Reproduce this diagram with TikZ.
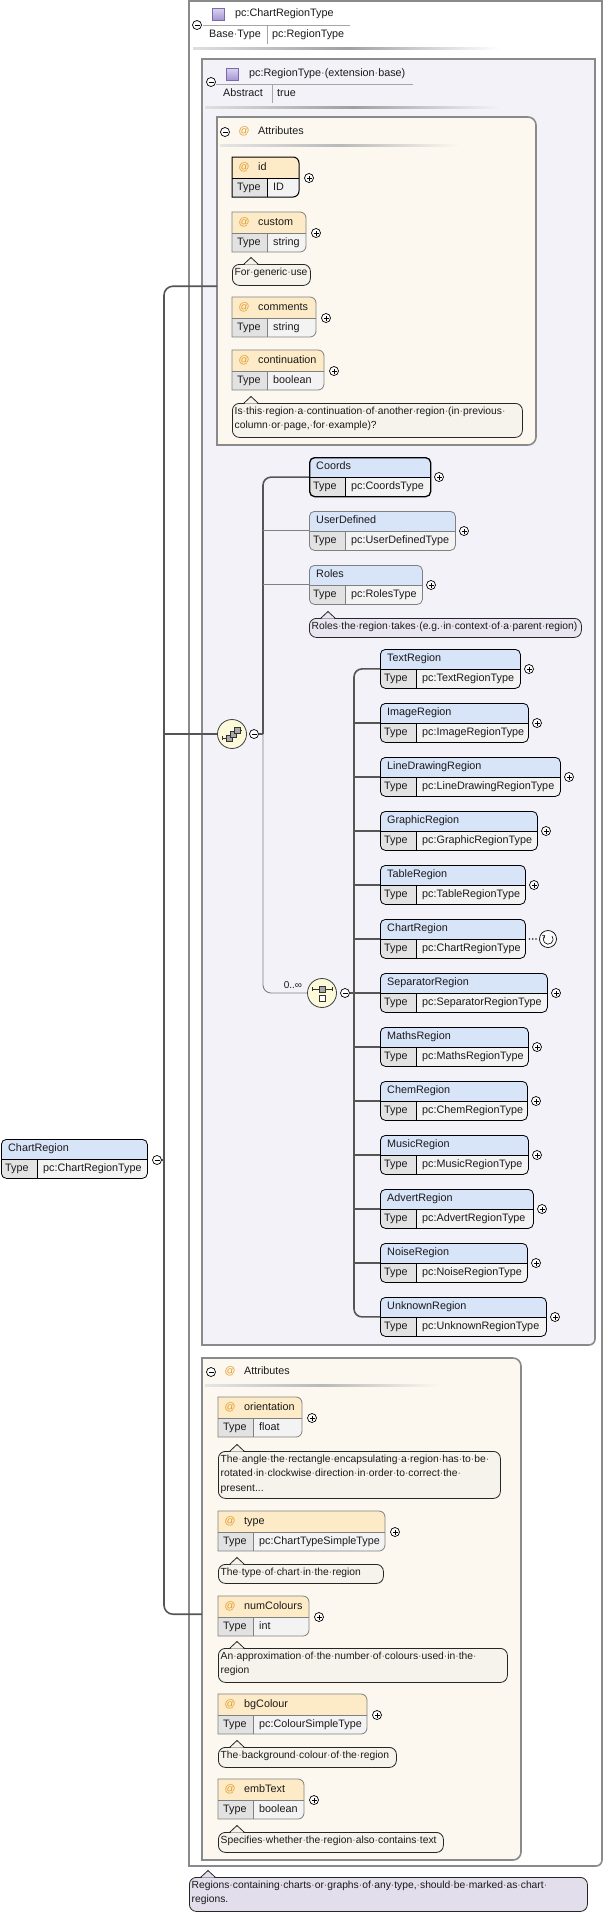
\documentclass[tikz,border=0pt]{standalone}
\usepackage{fontspec}
\setmainfont{Liberation Sans}
\usepackage{newunicodechar}
\definecolor{txt}{HTML}{1A1A1A}
\definecolor{wsdot}{HTML}{8C4A4A}
\definecolor{framegray}{HTML}{8A8A8A}
\definecolor{innerfill}{HTML}{F3F2F9}
\definecolor{attfill}{HTML}{FDF8EF}
\definecolor{elhead}{HTML}{D8E4F8}
\definecolor{atthead}{HTML}{FDEBC8}
\definecolor{typekey}{HTML}{E2E2E2}
\definecolor{typeval}{HTML}{F3F3F3}
\definecolor{optgray}{HTML}{808080}
\definecolor{conngray}{HTML}{555555}
\definecolor{atcol}{HTML}{E49A2A}
\definecolor{docfill}{HTML}{F6F3EC}
\definecolor{docfill2}{HTML}{E9E5F1}
\definecolor{docfill3}{HTML}{E2DEEC}
\definecolor{iconyellow}{HTML}{FCFAD8}
\definecolor{icongray}{HTML}{A8A8A8}
\definecolor{icontop}{HTML}{DCD4F0}
\definecolor{iconbot}{HTML}{A696D2}
\definecolor{iconborder}{HTML}{7A6AB0}
\newunicodechar{·}{\textcolor{wsdot}{\char"00B7}}

\tikzset{
  lbl/.style={inner sep=0, font=\fontsize{10.8}{13}\selectfont, text=txt, text height=7.8, text depth=2.2},
  doctxt/.style={inner sep=0, font=\fontsize{10.3}{14.5}\selectfont, align=left, text=txt},
  elreq/.style={draw=black, line width=0.8},
  elstrong/.style={draw=black, line width=1.3},
  elopt/.style={draw=optgray, line width=0.8},
  attreq/.style={draw=black, line width=1.0},
  attopt/.style={draw=optgray, line width=0.8},
  frame/.style={draw=framegray, line width=1.6},
  sepline/.style={draw=gray!70, line width=0.6},
  conn/.style={draw=conngray, line width=1.6},
  thinconn/.style={draw=optgray, line width=0.9},
  iconline/.style={draw=black!80, line width=0.6},
  btnminus/.style={circle, draw=black, fill=white, line width=0.7, minimum size=9, inner sep=0,
    path picture={\draw[line width=0.7] ([xshift=2pt]path picture bounding box.west) -- ([xshift=-2pt]path picture bounding box.east);}},
  btnplus/.style={circle, draw=black, fill=white, line width=0.7, minimum size=9, inner sep=0,
    path picture={\draw[line width=0.7] ([xshift=2pt]path picture bounding box.west) -- ([xshift=-2pt]path picture bounding box.east)
      ([yshift=2pt]path picture bounding box.south) -- ([yshift=-2pt]path picture bounding box.north);}},
  typeicon/.style={draw=iconborder, top color=icontop, bottom color=iconbot, minimum size=12, inner sep=0},
  modelicon/.style={circle, draw=black!75, fill=iconyellow, line width=0.8, minimum size=29, inner sep=0},
  reccirc/.style={circle, draw=black, fill=white, line width=0.7, minimum size=17, inner sep=0}
}

% box with rounded right corners: x, y, w, h, r
\newcommand\rrect[5]{(#1,#2) -- ++(#3-#5,0) arc[start angle=-90,end angle=0,radius=#5] -- ++(0,#4-2*#5) arc[start angle=0,end angle=90,radius=#5] -- (#1,#2+#4) -- cycle}

% element box: [border] name, x, y, width, title, type
\newcommand\elboxbare[7][elreq]{%
  \begin{scope}
    \clip[rounded corners=5] (#3,#4) rectangle ++(#5,39);
    \fill[elhead] (#3,#4) rectangle ++(#5,20);
    \fill[typekey] (#3,#4+20) rectangle ++(36,19);
    \fill[typeval] (#3+36,#4+20) rectangle (#3+#5,#4+39);
  \end{scope}
  \draw[#1, line width=0.6] (#3,#4+20) -- ++(#5,0) (#3+36,#4+20) -- ++(0,19);
  \node[#1, rounded corners=5, minimum width=#5, minimum height=39, anchor=north west, inner sep=0] (#2) at (#3,#4) {};
  \node[lbl, anchor=west] (#2-t) at (#3+7,#4+10) {#6};
  \node[lbl, anchor=west] (#2-k) at (#3+4,#4+29.5) {Type};
  \node[lbl, anchor=west] (#2-v) at (#3+42,#4+29.5) {#7};
}
\newcommand\elbox[7][elreq]{%
  \elboxbare[#1]{#2}{#3}{#4}{#5}{#6}{#7}
  \node[btnplus] (#2-b) at (#3+#5+9,#4+20) {};
}

% attribute box: [border] name, x, y, width, title, type
\newcommand\attbox[7][attopt]{%
  \begin{scope}
    \clip \rrect{#3}{#4}{#5}{40}{6};
    \fill[atthead] (#3,#4) rectangle ++(#5,21);
    \fill[typekey] (#3,#4+21) rectangle ++(35,19);
    \fill[typeval] (#3+35,#4+21) rectangle (#3+#5,#4+40);
  \end{scope}
  \draw[#1] \rrect{#3}{#4}{#5}{40}{6};
  \draw[#1, line width=0.6] (#3,#4+21) -- ++(#5,0) (#3+35,#4+21) -- ++(0,19);
  \node[inner sep=0, minimum width=#5, minimum height=40, anchor=north west] (#2) at (#3,#4) {};
  \node[lbl, text=atcol] (#2-at) at (#3+12,#4+10.5) {@};
  \node[lbl, anchor=west] (#2-t) at (#3+26,#4+10.5) {#6};
  \node[lbl, anchor=west] (#2-k) at (#3+5,#4+30.5) {Type};
  \node[lbl, anchor=west] (#2-v) at (#3+41,#4+30.5) {#7};
  \node[btnplus] (#2-b) at (#3+#5+10,#4+21) {};
}

% documentation callout: [fill] name, x, y, width, height, text
\newcommand\docbox[7][docfill]{%
  \node[draw=black!85, line width=0.8, fill=#1, rounded corners=7, minimum width=#5, minimum height=#6, anchor=north west, inner sep=0] (#2) at (#3,#4) {};
  \fill[#1] (#3+12.5,#4+0.7) -- (#3+19,#4-6.5) -- (#3+25.5,#4+0.7) -- cycle;
  \draw[draw=black!85, line width=0.8] (#3+12,#4) -- (#3+19,#4-6.5) -- (#3+26,#4);
  \node[doctxt, anchor=north west] (#2-t) at (#3+2.5,#4+3.5) {#7};
}

\begin{document}
\begin{tikzpicture}[x=1pt, y=-1pt]
  \useasboundingbox (0,0) rectangle (605,1915);

  % pc:ChartRegionType
  \draw[frame, fill=white] (189,1) -- (602,1) -- (602,1860) arc[start angle=0,end angle=90,radius=6] -- (189,1866) -- cycle;
  \node[btnminus] (ctype-b) at (197,25) {};
  \node[typeicon] (ctype-i) at (218,14) {};
  \node[lbl, anchor=west] (ctype) at (235,14) {pc:ChartRegionType};
  \draw[sepline] (203,25) -- (350,25) (267,25) -- (267,44);
  \node[lbl, anchor=west] (ctype-k) at (209,35) {Base·Type};
  \node[lbl, anchor=west] (ctype-v) at (272,35) {pc:RegionType};
  \shade[left color=gray!25, right color=white, middle color=gray!75] (193,47) rectangle (500,49.5);

  % pc:RegionType (extension base)
  \draw[frame, fill=innerfill] (202,59) -- (595,59) -- (595,1339) arc[start angle=0,end angle=90,radius=6] -- (202,1345) -- cycle;
  \node[btnminus] (rtype-b) at (211,82) {};
  \node[typeicon] (rtype-i) at (232,74) {};
  \node[lbl, anchor=west] (rtype) at (249,74) {pc:RegionType·(extension·base)};
  \draw[sepline] (216,84) -- (413,84) (272,84) -- (272,103);
  \node[lbl, anchor=west] (rtype-k) at (223,94) {Abstract};
  \node[lbl, anchor=west] (rtype-v) at (277,94) {true};
  \shade[left color=gray!25, right color=innerfill, middle color=gray!75] (205,106) rectangle (500,108.5);

  % Attributes (base)
  \draw[frame, fill=attfill] \rrect{217}{117}{319}{328}{8};
  \node[inner sep=0, minimum width=319, minimum height=328, anchor=north west] (attA) at (217,117) {};
  \node[btnminus] (attA-b) at (225,132) {};
  \node[lbl, text=atcol] (attA-at) at (244,132) {@};
  \node[lbl, anchor=west] (attA-t) at (258,132) {Attributes};
  \shade[left color=gray!20, right color=attfill, middle color=gray!55] (220,144) rectangle (460,146.5);

  \attbox[attreq]{id}{232}{157}{67}{id}{ID}
  \attbox{custom}{232}{212}{74}{custom}{string}
  \docbox{custom-d}{232}{264}{78}{21}{For·generic·use}
  \attbox{comments}{232}{297}{84}{comments}{string}
  \attbox{continuation}{232}{350}{92}{continuation}{boolean}
  \docbox{continuation-d}{232}{403}{290}{34}{Is·this·region·a·continuation·of·another·region·(in·previous·\\column·or·page,·for·example)?}

  % sequence
  \node[modelicon] (seq) at (232,734) {};
  \draw[iconline] ([shift={(-10,2)}]seq.center) -- ++(0,4) ([shift={(-10,4)}]seq.center) -- ++(4,0)
    ([shift={(7,-6)}]seq.center) -- ++(0,4) ([shift={(7,-4)}]seq.center) -- ++(3,0);
  \draw[iconline, fill=icongray] ([shift={(-6,1)}]seq.center) rectangle ++(6,6);
  \draw[iconline, fill=icongray] ([shift={(-2,-3)}]seq.center) rectangle ++(6,6);
  \draw[iconline, fill=icongray] ([shift={(2,-7)}]seq.center) rectangle ++(6,6);
  \node[btnminus] (seq-b) at (254,734) {};
  \coordinate (seqbar) at (263,734);

  \elbox[elstrong]{Coords}{309}{457}{121}{Coords}{pc:CoordsType}
  \elbox[elopt]{UserDefined}{309}{511}{146}{UserDefined}{pc:UserDefinedType}
  \elbox[elopt]{Roles}{309}{565}{113}{Roles}{pc:RolesType}
  \docbox[docfill2]{Roles-d}{309}{618}{272}{19}{Roles·the·region·takes·(e.g.·in·context·of·a·parent·region)}

  % choice
  \node[modelicon] (choice) at (322,993) {};
  \draw[iconline] ([shift={(-10,-4)}]choice.center) -- ++(20,0)
    ([shift={(-10,-6)}]choice.center) -- ++(0,4) ([shift={(10,-6)}]choice.center) -- ++(0,4);
  \draw[iconline, fill=icongray] ([shift={(-3,-7)}]choice.center) rectangle ++(6,6);
  \draw[iconline, fill=white] ([shift={(-3,2)}]choice.center) rectangle ++(6,6);
  \node[lbl, font=\fontsize{10}{12}\selectfont] (choice-l) at (293,986) {0..∞};
  \node[btnminus] (choice-b) at (345,993) {};
  \coordinate (chbar) at (354,993);

  \elbox{TextRegion}{380}{649}{140}{TextRegion}{pc:TextRegionType}
  \elbox{ImageRegion}{380}{703}{148}{ImageRegion}{pc:ImageRegionType}
  \elbox{LineDrawingRegion}{380}{757}{180}{LineDrawingRegion}{pc:LineDrawingRegionType}
  \elbox{GraphicRegion}{380}{811}{157}{GraphicRegion}{pc:GraphicRegionType}
  \elbox{TableRegion}{380}{865}{145}{TableRegion}{pc:TableRegionType}
  \elboxbare{ChartRegion}{380}{919}{145}{ChartRegion}{pc:ChartRegionType}
  \elbox{SeparatorRegion}{380}{973}{167}{SeparatorRegion}{pc:SeparatorRegionType}
  \elbox{MathsRegion}{380}{1027}{148}{MathsRegion}{pc:MathsRegionType}
  \elbox{ChemRegion}{380}{1081}{147}{ChemRegion}{pc:ChemRegionType}
  \elbox{MusicRegion}{380}{1135}{148}{MusicRegion}{pc:MusicRegionType}
  \elbox{AdvertRegion}{380}{1189}{153}{AdvertRegion}{pc:AdvertRegionType}
  \elbox{NoiseRegion}{380}{1243}{147}{NoiseRegion}{pc:NoiseRegionType}
  \elbox{UnknownRegion}{380}{1297}{166}{UnknownRegion}{pc:UnknownRegionType}

  % recursion
  \node[reccirc] (ChartRegion-b) at (548,939) {};
  \draw[line width=0.6, ->] ([shift={(4,-3)}]ChartRegion-b.center) arc[start angle=-40, end angle=230, radius=5];
  \draw[dotted, line width=1.3] ([xshift=3pt]ChartRegion.east) -- ([xshift=-1pt]ChartRegion-b.west);

  % Attributes (ChartRegionType)
  \draw[frame, fill=attfill] \rrect{202}{1358}{319}{502}{8};
  \node[inner sep=0, minimum width=319, minimum height=502, anchor=north west] (attB) at (202,1358) {};
  \node[btnminus] (attB-b) at (211,1372) {};
  \node[lbl, text=atcol] (attB-at) at (230,1372) {@};
  \node[lbl, anchor=west] (attB-t) at (244,1372) {Attributes};
  \shade[left color=gray!20, right color=attfill, middle color=gray!55] (205,1384) rectangle (440,1386.5);

  \attbox{orientation}{218}{1397}{84}{orientation}{float}
  \docbox{orientation-d}{218}{1451}{282}{47}{The·angle·the·rectangle·encapsulating·a·region·has·to·be·\\rotated·in·clockwise·direction·in·order·to·correct·the·\\present...}
  \attbox{type}{218}{1511}{167}{type}{pc:ChartTypeSimpleType}
  \docbox{type-d}{218}{1564}{165}{19}{The·type·of·chart·in·the·region}
  \attbox{numColours}{218}{1596}{91}{numColours}{int}
  \docbox{numColours-d}{218}{1648}{289}{34}{An·approximation·of·the·number·of·colours·used·in·the·\\region}
  \attbox{bgColour}{218}{1694}{149}{bgColour}{pc:ColourSimpleType}
  \docbox{bgColour-d}{218}{1747}{178}{20}{The·background·colour·of·the·region}
  \attbox{embText}{218}{1779}{86}{embText}{boolean}
  \docbox{embText-d}{218}{1832}{225}{20}{Specifies·whether·the·region·also·contains·text}

  \docbox[docfill3]{ctype-d}{189}{1877}{398}{34}{Regions·containing·charts·or·graphs·of·any·type,·should·be·marked·as·chart·\\regions.}

  % root element
  \elboxbare{root}{1}{1139}{146}{ChartRegion}{pc:ChartRegionType}
  \node[btnminus] (root-b) at (157,1160) {};
  \coordinate (trunk) at (164,1160);

  % connectors
  \draw[conn, rounded corners=9] ([yshift=-5pt]attA.west) -| (trunk) |- ([yshift=-5pt]attB.west);
  \draw[conn] (root-b.east) -- (trunk);
  \draw[conn] (seq.west) -- (seq.west -| trunk);
  \draw[conn] (seq-b.east) -- (seqbar);
  \draw[conn, rounded corners=8] (seqbar) |- (Coords.west);
  \draw[thinconn] (UserDefined.west) -- (UserDefined.west -| seqbar);
  \draw[thinconn] (Roles.west) -- (Roles.west -| seqbar);
  \draw[thinconn, rounded corners=8] (seqbar) |- (choice.west);
  \draw[conn] (choice-b.east) -- (chbar);
  \draw[conn, rounded corners=8] (TextRegion.west) -| (chbar) |- (UnknownRegion.west);
  \draw[conn] (ImageRegion.west) -- (ImageRegion.west -| chbar);
  \draw[conn] (LineDrawingRegion.west) -- (LineDrawingRegion.west -| chbar);
  \draw[conn] (GraphicRegion.west) -- (GraphicRegion.west -| chbar);
  \draw[conn] (TableRegion.west) -- (TableRegion.west -| chbar);
  \draw[conn] (ChartRegion.west) -- (ChartRegion.west -| chbar);
  \draw[conn] (SeparatorRegion.west) -- (SeparatorRegion.west -| chbar);
  \draw[conn] (MathsRegion.west) -- (MathsRegion.west -| chbar);
  \draw[conn] (ChemRegion.west) -- (ChemRegion.west -| chbar);
  \draw[conn] (MusicRegion.west) -- (MusicRegion.west -| chbar);
  \draw[conn] (AdvertRegion.west) -- (AdvertRegion.west -| chbar);
  \draw[conn] (NoiseRegion.west) -- (NoiseRegion.west -| chbar);
\end{tikzpicture}
\end{document}
